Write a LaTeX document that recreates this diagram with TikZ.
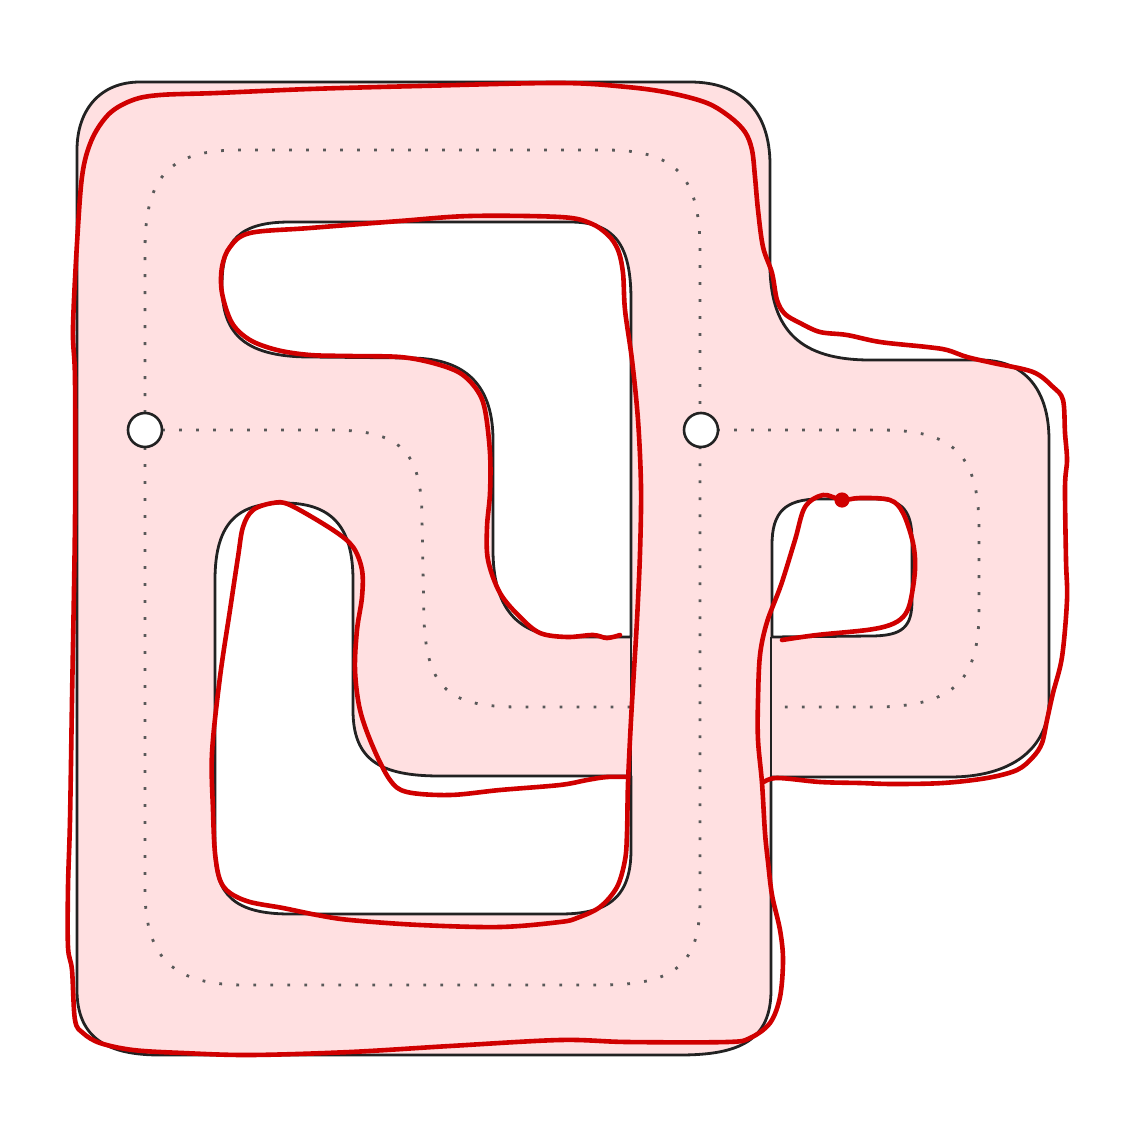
\documentclass[tikz,border=0pt]{standalone}
\definecolor{bandpink}{RGB}{255,224,225}
\definecolor{inkred}{RGB}{208,0,0}
\definecolor{edgegray}{RGB}{34,34,34}
\tikzset{
  band/.style={fill=bandpink, even odd rule},
  rim/.style={draw=edgegray, line width=1.4pt, line join=round},
  centre/.style={draw=black!65, line width=1.4pt, dash pattern=on 1.4pt off 7.1pt},
  vertex/.style={circle, draw=edgegray, line width=1.3pt, fill=white, inner sep=0pt, minimum size=17pt},
  pen/.style={draw=inkred, line width=2.3pt, line cap=round, line join=round},
}
\begin{document}
\begin{tikzpicture}[x=0.5pt, y=-0.5pt]
\useasboundingbox (0,0) rectangle (1121,1134);
% band with holes
\path[band, rim]
  (140,82) -- (690,82) .. controls (740,82) and (770,110) .. (770,165)
  -- (770,270) .. controls (772,330) and (800,360) .. (870,360)
  -- (980,360) .. controls (1025,360) and (1049,390) .. (1049,440)
  -- (1049,700) .. controls (1049,750) and (1010,777) .. (950,777)
  -- (771,777) -- (771,990) .. controls (771,1040) and (740,1055) .. (680,1055)
  -- (160,1055) .. controls (110,1055) and (77,1040) .. (77,990)
  -- (77,150) .. controls (77,110) and (100,82) .. (140,82) -- cycle
  (631,637) -- (570,637) .. controls (515,637) and (493,605) .. (493,550)
  -- (493,440) .. controls (493,380) and (460,358) .. (410,358)
  -- (310,357) .. controls (240,357) and (222,330) .. (222,285)
  .. controls (222,240) and (240,222) .. (290,222)
  -- (570,222) .. controls (615,222) and (631,245) .. (631,300) -- cycle
  (215,580) .. controls (215,520) and (240,503) .. (284,503)
  .. controls (330,503) and (353,525) .. (353,580)
  -- (353,710) .. controls (353,760) and (380,776) .. (440,776)
  -- (631,776) -- (631,850) .. controls (631,900) and (605,914) .. (560,914)
  -- (290,914) .. controls (235,914) and (215,895) .. (215,850) -- cycle
  (772,637) -- (772,545) .. controls (772,512) and (785,499) .. (820,499)
  -- (875,499) .. controls (903,499) and (912,512) .. (912,540)
  -- (912,600) .. controls (912,627) and (903,636) .. (870,636) -- cycle;
% centre lines
\path[centre] (145,430) -- (145,250) .. controls (145,175) and (170,150) .. (240,150)
  -- (605,150) .. controls (675,150) and (700,175) .. (700,250) -- (700,430);
\path[centre] (145,430) -- (145,890) .. controls (145,960) and (175,985) .. (245,985)
  -- (600,985) .. controls (675,985) and (700,965) .. (700,900) -- (700,430);
\path[centre] (145,430) -- (330,430) .. controls (400,430) and (422,450) .. (422,520)
  -- (424,620) .. controls (427,690) and (450,707) .. (520,707) -- (631,707);
\path[centre] (700,430) -- (880,430) .. controls (955,430) and (979,455) .. (979,530)
  -- (979,610) .. controls (979,680) and (955,705) .. (880,707) -- (771,707);
% crossing edges
\draw[rim] (631,637) -- (631,776);
\draw[rim] (771,637) -- (771,777);
% vertices
\node[vertex] (L) at (145,430) {};
\node[vertex] (R) at (701,430) {};
% red strokes
\draw[pen] plot[smooth, tension=0.55] coordinates {
  (782,640) (817,635) (867,630) (890,625) (903,617) (910,603) (915,570) (913,543)
  (903,513) (890,500) (860,498) (842,500) (823,495) (805,507) (795,540) (781,585)
  (767,622) (760,655) (758,700) (758,740) (762,783) (765,833) (768,862) (772,895)
  (780,930) (783,960) (780,997) (770,1023) (750,1038) (727,1042) (627,1042) (560,1040)
  (450,1046) (350,1052) (250,1055) (183,1053) (133,1050) (100,1043) (83,1033)
  (75,1020) (72,970) (68,947) (68,887) (70,820) (72,700) (75,520) (75,380) (73,327)
  (78,227) (83,170) (93,137) (110,113) (133,100) (160,95) (217,93) (310,89) (420,86)
  (560,83) (627,87) (670,93) (707,103) (730,117) (745,132) (752,150) (755,177)
  (758,210) (763,247) (772,273) (777,300) (785,314) (800,323) (820,332) (847,335)
  (880,342) (927,347) (947,350) (967,357) (993,363) (1033,372) (1053,387) (1063,400)
  (1065,433) (1067,460) (1065,487) (1066,560) (1067,600) (1062,657) (1053,693)
  (1047,720) (1042,743) (1033,757) (1017,770) (987,778) (943,783) (893,784)
  (860,783) (820,782) (777,778) (762,783)};
\fill[inkred] (842,500) circle[radius=3.8pt];
\draw[pen] plot[smooth, tension=0.55] coordinates {
  (620,635) (607,638) (593,635) (567,637) (540,633) (520,617) (500,593) (488,560)
  (487,527) (490,493) (490,453) (485,410) (477,390) (460,373) (433,363) (400,357)
  (350,356) (310,355) (277,350) (250,340) (232,323) (222,293) (222,267) (230,247)
  (250,233) (310,228) (400,221) (470,216) (560,217) (590,223) (608,235) (618,250)
  (623,273) (625,310) (632,360) (638,420) (641,487) (640,553) (637,620) (634,670)
  (631,720) (628,783) (627,833) (625,860) (617,887) (600,907) (577,918) (560,922)
  (500,927) (420,925) (350,920) (317,915) (283,908) (250,902) (230,893) (220,880)
  (215,853) (213,810) (212,753) (220,677) (230,610) (238,557) (243,527) (253,510)
  (273,503) (290,505) (333,530) (353,547) (362,570) (362,597) (357,630) (355,670)
  (360,710) (373,747) (390,780) (407,792) (450,795) (500,790) (560,785) (587,780)
  (607,777) (628,777)};
\end{tikzpicture}
\end{document}
